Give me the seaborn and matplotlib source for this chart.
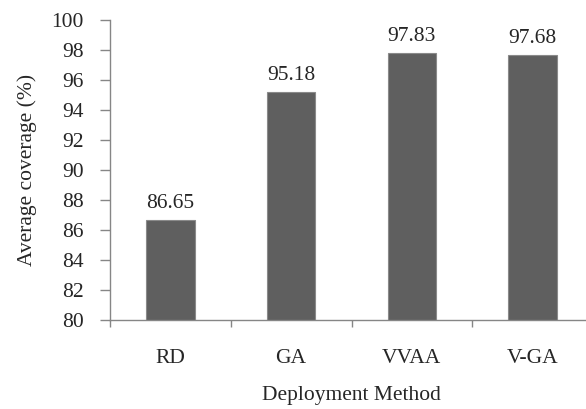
import matplotlib
matplotlib.use("Agg")
import matplotlib.pyplot as plt
import seaborn as sns
import pandas as pd
from matplotlib.ticker import FixedLocator

methods = ["RD", "GA", "VVAA", "V-GA"]
coverage = [86.65, 95.18, 97.83, 97.68]
y_ticks = [80, 82, 84, 86, 88, 90, 92, 94, 96, 98, 100]

df = pd.DataFrame({"method": methods, "coverage": coverage})

sns.set_style("white")
plt.rcParams["font.family"] = ["Liberation Serif", "DejaVu Serif"]
FS = 15.5

fig = plt.figure(figsize=(5.86, 4.09), dpi=100)
ax = fig.add_axes([110 / 586, 1 - 320 / 409, 483 / 586, 300 / 409])

sns.barplot(data=df, x="method", y="coverage", color="#5f5f5f", width=0.4,
            edgecolor="#8a8a8a", linewidth=0.8, saturation=1, ax=ax)

ax.set_ylim(80, 100)
ax.set_xlim(-0.5, 3.5)
ax.set_yticks(y_ticks)
ax.set_yticklabels([str(v) for v in y_ticks], fontsize=FS)

for c in ax.containers:
    ax.bar_label(c, labels=[f"{v:.2f}" for v in coverage], padding=5, fontsize=FS)

ax.xaxis.set_minor_locator(FixedLocator([-0.5, 0.5, 1.5, 2.5]))
ax.tick_params(axis="x", which="major", length=0, pad=21, labelsize=FS)
ax.tick_params(axis="x", which="minor", length=5, width=1, color="#868686", direction="out", bottom=True)
ax.tick_params(axis="y", which="major", length=7, width=1, color="#868686", direction="out", left=True, pad=12)

for s in ["top", "right"]:
    ax.spines[s].set_visible(False)
for s in ["left", "bottom"]:
    ax.spines[s].set_color("#868686")
    ax.spines[s].set_linewidth(1)

ax.set_xlabel("Deployment Method", fontsize=FS, labelpad=13)
ax.set_ylabel("Average coverage (%)", fontsize=FS, labelpad=10)

fig.savefig("out.png", dpi=100)
